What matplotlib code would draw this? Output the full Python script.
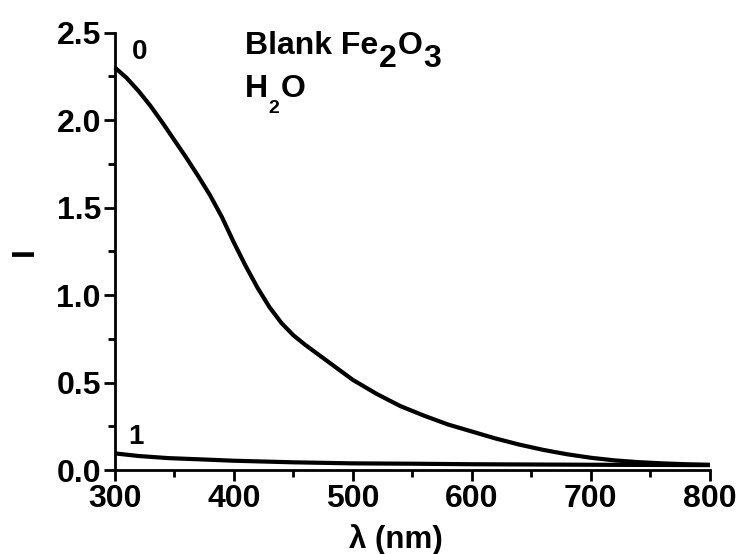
import matplotlib
matplotlib.use("Agg")
import matplotlib.pyplot as plt
from matplotlib.ticker import MultipleLocator, FormatStrFormatter
from matplotlib.transforms import offset_copy

plt.rcParams['font.family'] = ['Liberation Sans', 'DejaVu Sans']
plt.rcParams['font.weight'] = 'bold'

# curve 0
wl0 = [300, 310, 320, 330, 340, 350, 360, 370, 380, 390, 400, 410, 420, 430,
       440, 450, 460, 470, 480, 490, 500, 520, 540, 560, 580, 600, 620, 640,
       660, 680, 700, 720, 740, 760, 780, 800]
I0 = [2.30, 2.24, 2.165, 2.08, 1.985, 1.885, 1.785, 1.68, 1.57, 1.445, 1.30, 1.165,
      1.04, 0.93, 0.84, 0.77, 0.715, 0.665, 0.615, 0.565, 0.515, 0.435, 0.365, 0.31,
      0.26, 0.22, 0.18, 0.145, 0.115, 0.09, 0.07, 0.055, 0.045, 0.038, 0.033, 0.03]
# curve 1
wl1 = [300, 320, 345, 375, 400, 450, 500, 550, 600, 700, 800]
I1 = [0.095, 0.080, 0.068, 0.060, 0.053, 0.044, 0.038, 0.036, 0.033, 0.030, 0.028]

curve_labels = ['0', '1']
# title runs: (text, fontsize, vertical shift in points)
title1_runs = [('Blank Fe', 23, 0), ('2', 23, -10), ('O', 23, 0), ('3', 23, -10)]
title2_runs = [('H', 23, 0), ('2', 14, -11), ('O', 23, 0)]

fig = plt.figure(figsize=(7.41, 5.54), dpi=100)
ax = fig.add_axes([0.155, 0.1516, 0.803, 0.7897])

ax.plot(wl0, I0, color='black', lw=3, clip_on=False, solid_capstyle='butt')
ax.plot(wl1, I1, color='black', lw=3, clip_on=False, solid_capstyle='butt')

ax.set_xlim(300, 800)
ax.set_ylim(0, 2.5)
ax.xaxis.set_major_locator(MultipleLocator(100))
ax.xaxis.set_minor_locator(MultipleLocator(50))
ax.yaxis.set_major_locator(MultipleLocator(0.5))
ax.yaxis.set_minor_locator(MultipleLocator(0.25))
ax.yaxis.set_major_formatter(FormatStrFormatter('%.1f'))

for s in ['top', 'right']:
    ax.spines[s].set_visible(False)
for s in ['left', 'bottom']:
    ax.spines[s].set_linewidth(2)

ax.tick_params(which='major', direction='out', length=8, width=2,
               labelsize=23, pad=2)
ax.tick_params(which='minor', direction='out', length=5, width=2)
for lab in ax.get_xticklabels() + ax.get_yticklabels():
    lab.set_fontweight('bold')

ax.set_xlabel('λ (nm)', fontsize=22.5, fontweight='bold', labelpad=7)
ax.xaxis.label.set_x(0.472)
ax.set_ylabel('I', fontsize=23, fontweight='bold', labelpad=12)

ax.text(321, 2.39, curve_labels[0], fontsize=20, fontweight='bold',
        ha='center', va='center')
ax.text(318, 0.19, curve_labels[1], fontsize=20, fontweight='bold',
        ha='center', va='center')

fig.canvas.draw()
renderer = fig.canvas.get_renderer()


def place_runs(x, y, runs, gap=1.0):
    dx = 0.0
    for txt, size, dy in runs:
        tr = offset_copy(ax.transData, fig=fig, x=dx, y=dy * fig.dpi / 72,
                         units='dots')
        t = ax.text(x, y, txt, fontsize=size, fontweight='bold',
                    ha='left', va='baseline', transform=tr)
        w = t.get_window_extent(renderer).width
        dx += w + gap


place_runs(409, 2.38, title1_runs)
place_runs(409, 2.13, title2_runs)

fig.savefig('out.png', dpi=100)
